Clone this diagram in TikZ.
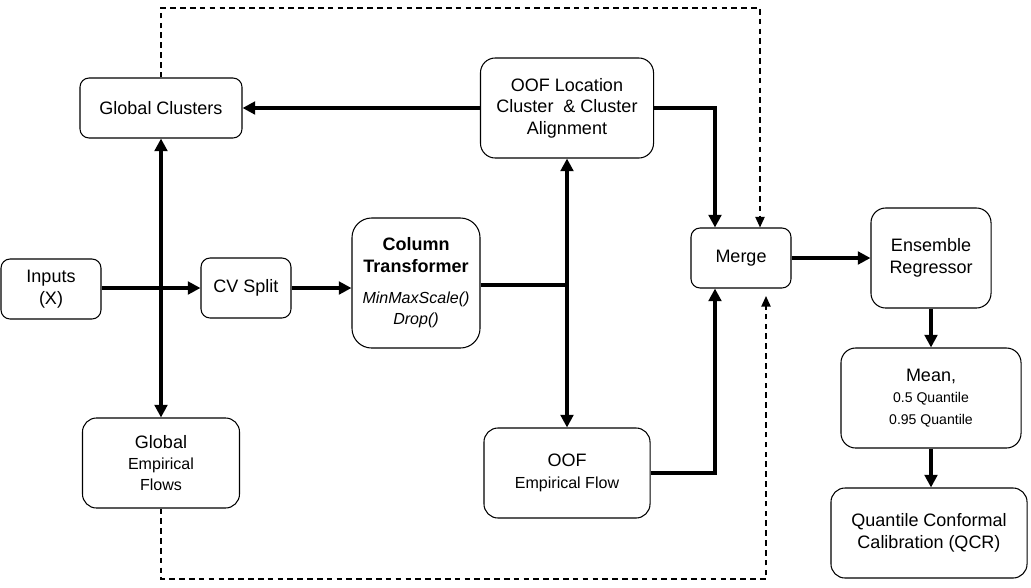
\documentclass[tikz,border=0pt]{standalone}
\usepackage{fontspec}
\setmainfont{Liberation Sans}
\usetikzlibrary{positioning, arrows.meta}

\newcommand{\maintxt}{\fontsize{12.8}{15.2}\selectfont}
\newcommand{\smalltxt}{\fontsize{11.4}{14}\selectfont}
\newcommand{\tinytxt}{\fontsize{10}{12.8}\selectfont}

\begin{document}
\begin{tikzpicture}[x=0.025cm, y=-0.025cm,
        box/.style={draw, line width=0.75pt, rounded corners=6.5pt, align=center, inner sep=0pt, font=\maintxt},
        flow/.style={line width=2.3pt, -{Triangle[length=9pt, width=9pt]}},
        link/.style={line width=2.3pt},
        skip/.style={line width=1.2pt, dash pattern=on 4pt off 3pt, -{Triangle[length=7.5pt, width=6.5pt]}}]

        \useasboundingbox (0,0) rectangle (1031,587);

        \node[box, minimum width=2.5cm, minimum height=1.5cm] (inputs) at (51,289) {Inputs\\(X)};
        \node[box, minimum width=2.25cm, minimum height=1.5cm] (cvsplit) at (246,288) {CV Split};
        \node[box, minimum width=3.2cm, minimum height=3.25cm, rounded corners=14pt] (colt) at (416,283)
            {\textbf{Column}\\\textbf{Transformer}\\[7pt]\smalltxt\textit{MinMaxScale()}\\\smalltxt\textit{Drop()}};

        \node[box, minimum width=4.05cm, minimum height=1.5cm] (gclus) at (161,108) {Global Clusters};
        \node[box, minimum width=3.925cm, minimum height=2.25cm, rounded corners=10pt] (gflows) at (161,463)
            {Global\\\smalltxt Empirical\\\smalltxt Flows};

        \node[box, minimum width=4.325cm, minimum height=2.5cm, rounded corners=10.5pt] (oofloc) at (567,108)
            {OOF Location\\Cluster~~\& Cluster\\Alignment};
        \node[box, minimum width=4.15cm, minimum height=2.25cm, rounded corners=10pt] (oofemp) at (567,473)
            {OOF\\\smalltxt Empirical Flow};

        \node[box, minimum width=2.5cm, minimum height=1.5cm] (merge) at (741,258) {Merge};
        \node[box, minimum width=3cm, minimum height=2.5cm, rounded corners=10.5pt] (ensemble) at (931,258)
            {Ensemble\\Regressor};
        \node[box, minimum width=4.5cm, minimum height=2.5cm, rounded corners=10.5pt] (mean) at (931,398)
            {Mean,\\\tinytxt 0.5 Quantile\\\tinytxt 0.95 Quantile};
        \node[box, minimum width=4.9cm, minimum height=2.25cm, rounded corners=10pt] (qcr) at (929,533)
            {Quantile Conformal\\Calibration (QCR)};

        \coordinate (gsplit) at (161,288);
        \coordinate (osplit) at (567,285);
        \coordinate (topturn) at (760,8);
        \coordinate (botturn) at (766,579);
        \coordinate (botend) at (766,296);

        \draw[flow] (inputs.east |- gsplit) -- (cvsplit);
        \draw[flow] (gsplit) -- (gclus);
        \draw[flow] (gsplit) -- (gflows);
        \draw[flow] (cvsplit) -- (cvsplit -| colt.west);
        \draw[link] (colt.east |- osplit) -- (osplit);
        \draw[flow] (osplit) -- (oofloc);
        \draw[flow] (osplit) -- (oofemp);
        \draw[flow] (oofloc) -- (gclus);
        \draw[flow] (oofloc.east) -| ([xshift=-0.65cm]merge.north);
        \draw[flow] (oofemp.east) -| ([xshift=-0.65cm]merge.south);
        \draw[flow] (merge) -- (ensemble);
        \draw[flow] (ensemble) -- (mean);
        \draw[flow] (mean.south) -- (mean.south |- qcr.north);

        \draw[skip] (gclus.north) |- (topturn) -- (topturn |- merge.north);
        \draw[skip] (gflows.south) |- (botturn) -- (botend);

    \end{tikzpicture}
\end{document}
